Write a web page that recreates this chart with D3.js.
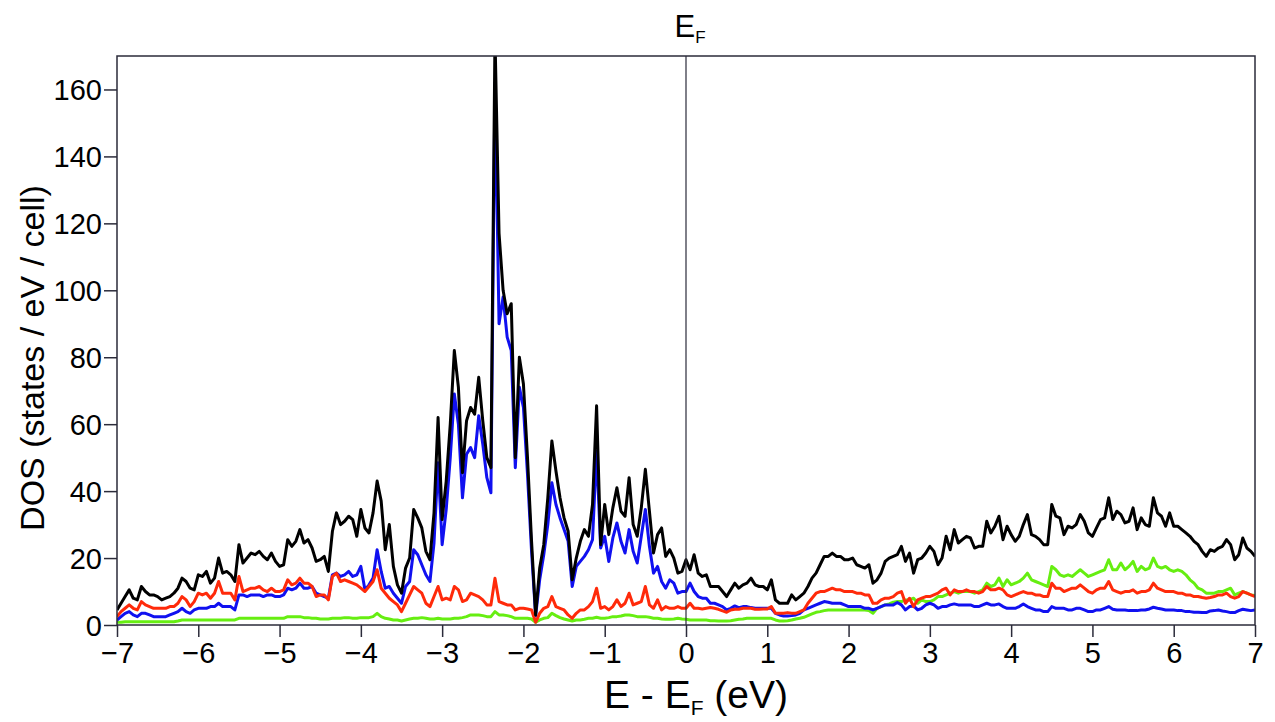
<!DOCTYPE html>
<html>
<head>
<meta charset="utf-8">
<script src="https://cdn.jsdelivr.net/npm/d3@7"></script>
<style>
  body { margin: 0; background: #fff; }
  text { font-family: "Liberation Sans", Arial, sans-serif; fill: #000; }
</style>
</head>
<body>
<div id="chart"></div>
<script>
var svgWidth = 1275;
var svgHeight = 722;

var margin = { top: 56, right: 20, bottom: 97, left: 117 };

var width = svgWidth - margin.left - margin.right;
var height = svgHeight - margin.top - margin.bottom;

// energy grid, -7 to 7 eV in 0.05 eV steps (281 points, one row = 1 eV)
var energy = d3.range(281).map(function(i) { return -7 + i * 0.05; });

var totalDOS = [
  4.5, 6.5, 8.5, 10.5, 8, 7.5, 11.5, 10, 9, 9, 8.5, 7.5, 8, 8.5, 9.5, 11, 14, 13, 11, 10.5,
  15, 14.5, 16, 12.5, 14, 20, 15.5, 16, 15, 13, 24, 18.5, 20, 21.5, 21, 22, 20.5, 19.5, 21.5, 19,
  17.5, 18, 25.5, 23.5, 25, 28.5, 24.5, 25.5, 23, 19, 19.5, 20.5, 16, 28, 33.5, 30, 31, 32.5, 31.5, 26.5,
  34.5, 29, 27.5, 33.5, 43, 37, 22.5, 30, 17.5, 12, 9.5, 17, 20, 34.5, 32, 29, 22, 19.5, 33.5, 62,
  31.5, 43, 60, 82, 71, 45.5, 61, 65, 63, 74, 61, 50, 47, 176, 117, 100, 93, 96, 50, 80,
  72, 50, 25, 3, 17, 24, 38, 55, 46, 38, 32, 28, 13.5, 20, 25, 28.5, 26.5, 36, 65.5, 24,
  36, 27, 35, 41, 34, 32.5, 44, 30, 26.5, 35, 46.5, 34, 21.5, 27, 29, 20.5, 22.5, 20, 15.5, 16,
  19.5, 16.5, 21, 15.5, 14.5, 15, 11.5, 11.5, 11.5, 10, 8.5, 10.5, 12.5, 11, 12, 12.5, 14, 12, 11.5, 11.5,
  10.5, 13.5, 7.5, 6.5, 6.5, 6.5, 9, 7.5, 8.5, 9.5, 11.5, 14, 15.5, 18, 20.5, 20.5, 21.5, 20.5, 20.5, 19.5,
  19.5, 20, 18, 17.5, 17, 18, 12.5, 13.5, 15.5, 19, 20, 20.5, 21, 23.5, 19, 21.5, 15.5, 19.5, 20, 21.5,
  23.5, 22, 18, 20, 26.5, 22.5, 28.5, 24.5, 25.5, 26.5, 26, 23, 23.5, 23.5, 31, 27.5, 29.5, 32.5, 25.5, 29.5,
  27, 25, 26.5, 30, 33, 27, 26.5, 25.5, 24, 24, 36, 32.5, 32, 27, 29.5, 29, 30, 33, 31, 27.5,
  26.5, 29, 31.5, 32, 38, 31.5, 34, 33, 30.5, 31, 35, 28.5, 32, 30, 29.5, 38, 33.5, 32.5, 29.5, 33.5,
  29.5, 29.5, 28.5, 27.5, 26.5, 25, 24, 22, 20.5, 22.5, 22, 23, 23.5, 25.5, 24, 19.5, 21, 26, 23, 22,
  20.5
];

var blueDOS = [
  1.5, 2.5, 3.5, 4, 3, 2.5, 3.5, 3.5, 3, 2.5, 2.5, 2.5, 2.5, 3, 3.5, 4, 5, 4, 3.5, 4.5,
  5, 5, 5, 5.5, 5.5, 6.5, 5.5, 5.5, 5.5, 4.5, 9, 9, 8.5, 9, 9, 9, 8.5, 9, 9, 8.5,
  8.5, 9, 11, 10.5, 11, 12.5, 11, 11, 11.5, 9.5, 9, 8.5, 8, 15, 15.5, 14.5, 15, 16, 14.5, 15,
  17.5, 10.5, 12, 14, 22.5, 16, 11, 11.5, 9.5, 8, 6.5, 11.5, 13, 22.5, 21, 18, 15, 13, 24.5, 48.5,
  24, 34.5, 50, 69, 60, 38, 51, 53, 50, 62.5, 54, 44, 39.5, 162, 90, 98, 86, 82, 47, 71,
  65, 45, 22, 2.7, 13.5, 21, 30, 42.5, 36, 32, 28.5, 25, 11.5, 17.5, 19, 20.5, 22.5, 25.5, 52, 23,
  26.5, 19, 26, 30.5, 25, 21.5, 28.5, 22, 18.5, 26.5, 34.5, 23.5, 15.5, 17.5, 13, 11, 13.5, 12.5, 9.5, 10,
  10, 12.5, 10, 8.5, 8, 8, 6.5, 6.5, 6, 5.5, 4.5, 5, 5.7, 5.2, 5.5, 5.5, 5.2, 5, 5, 5,
  5, 5, 3.5, 3, 2.7, 2.7, 2.8, 3, 3.5, 4.5, 5, 5.5, 6, 6.5, 7, 6.8, 6.5, 6.5, 6.5, 6,
  5.5, 5.5, 5.5, 5.5, 5, 5, 4.5, 5, 5.5, 6, 6, 6, 6.7, 6, 4.5, 5.5, 5.7, 4.5, 5, 6,
  6.5, 6, 5, 5.5, 5.5, 6, 6.3, 6, 6, 6, 6, 5.5, 5.5, 6, 6.5, 6, 6, 6.3, 5.5, 5,
  5, 5, 5.5, 6.3, 5.5, 5, 4.5, 4.5, 4, 4, 5.5, 5, 5, 5, 4.5, 4.5, 5, 5, 4.5, 4,
  4, 4.5, 4.5, 5, 5.5, 4.7, 4.5, 4.5, 4.5, 4.3, 4.3, 4.3, 4.5, 4.5, 4.8, 5.3, 5, 4.8, 4.5, 4.5,
  4.5, 4.3, 4.3, 4, 4, 3.8, 3.8, 3.7, 3.7, 4.2, 4.3, 4.5, 4.2, 4, 3.7, 3.7, 4.3, 4.7, 4.5, 4.3,
  4.5
];

var redDOS = [
  2.5, 4, 5, 6, 5, 4.5, 7, 6, 5.5, 5, 5, 5, 5, 5.5, 5.5, 6.5, 8.5, 7.5, 5.5, 7,
  9.5, 9, 9.5, 8, 9.5, 13, 9.5, 9.5, 9.5, 7.5, 14.5, 10, 10.5, 11, 11, 11.5, 10.5, 10, 11, 10,
  10, 10.5, 13.5, 12, 12.5, 14, 12.5, 12.5, 11.5, 8.5, 9, 9, 7.5, 14.5, 15.5, 13, 13.5, 13, 12.5, 12,
  11, 10, 11.5, 13, 16.5, 11, 9.5, 8, 7, 6, 4, 6.5, 9, 11.5, 10.5, 9.5, 6.5, 5.5, 8.5, 11.5,
  7.5, 8, 7.5, 11.5, 10.5, 7, 7.5, 9.5, 9, 8.5, 7.5, 6, 6, 14, 7, 6.5, 6, 6, 4.5, 5,
  5, 4.8, 4.5, 0.8, 3.5, 5, 5.5, 8.5, 5.5, 5, 4.5, 3, 2, 3.5, 4.5, 4.5, 5.5, 7, 11, 5,
  5.5, 4.5, 5.5, 7.5, 5.5, 6.5, 9.5, 6, 6.5, 7, 11.5, 6, 5, 7.5, 4.5, 5.5, 5, 5, 5.5, 5,
  5, 6.5, 5, 5, 4.8, 5, 5.2, 5, 4.7, 4.2, 3.8, 4.5, 4.7, 4.7, 5, 5, 5, 4.7, 4.7, 4.8,
  4.8, 5.5, 3.5, 3.5, 3.5, 3.7, 3.5, 3.5, 4, 4.5, 6.5, 8, 9.5, 10, 10, 10.5, 11, 10.5, 10.5, 10,
  10, 10, 9.5, 9.5, 9, 9, 6.5, 6.5, 7.5, 8, 8, 8.5, 9.5, 10, 6.5, 8, 5.5, 7.5, 8, 8.5,
  8.5, 9, 9.5, 10.5, 11, 9, 10.5, 10, 10, 10.5, 10, 10, 9.5, 10, 11.5, 10.5, 10.5, 11, 10.5, 9,
  8.5, 9, 9.5, 10, 9.5, 9.5, 9, 9, 8.5, 8.5, 12.5, 11, 11, 10, 10.5, 11, 11, 12, 11, 10,
  9.5, 10.5, 11, 11, 13, 10.5, 10, 9.5, 10, 10, 10.5, 9.5, 10, 10, 10.5, 12.5, 11, 10.5, 10, 10,
  10, 9.5, 9.5, 9, 9, 8.5, 8.5, 8.2, 8, 8.2, 8.5, 9, 9, 9.5, 8.5, 8, 8.5, 10, 9.5, 9,
  8.5
];

var greenDOS = [
  0.8, 0.8, 1, 1, 1, 1, 1, 1, 1, 1, 1, 1, 1, 1, 1, 1.2, 1.5, 1.5, 1.5, 1.5,
  1.5, 1.5, 1.5, 1.5, 1.5, 1.5, 1.5, 1.5, 1.5, 1.5, 2, 2, 2, 2, 2, 2, 2, 2, 2, 2,
  2, 2, 2.5, 2.5, 2.5, 2.5, 2.2, 2.2, 2, 2, 1.8, 1.8, 1.8, 2, 2, 2, 2.2, 2.2, 2, 2,
  2.2, 2.2, 2.2, 2.5, 3.5, 2.5, 2, 1.8, 1.5, 1.5, 1.2, 1.5, 1.8, 2, 2, 2.2, 2, 1.8, 1.8, 2,
  1.8, 1.8, 1.8, 2, 2, 2.2, 2.5, 3, 3, 3, 2.8, 2.5, 2.5, 4, 3, 3, 2.8, 2.5, 2, 2,
  2, 2, 1.8, 0.8, 1.5, 2, 2.2, 3.5, 2.8, 2.2, 1.8, 1.5, 1.2, 1.5, 1.5, 1.7, 2, 2, 2.3, 2,
  2, 2.2, 2.5, 2.5, 2.7, 3, 3, 2.8, 2.5, 2.5, 2.5, 2.3, 2, 2, 1.8, 1.7, 1.7, 1.8, 2, 1.8,
  1.7, 1.5, 1.5, 1.5, 1.5, 1.5, 1.3, 1.3, 1.2, 1.2, 1.2, 1.3, 1.5, 1.7, 1.8, 2, 2, 2, 2, 2,
  2, 2, 1.5, 1.2, 1.2, 1.3, 1.5, 1.8, 2, 2.3, 2.8, 3.3, 3.8, 4, 4.3, 4.5, 4.5, 4.5, 4.5, 4.5,
  4.5, 4.5, 4.5, 4.5, 4.5, 4.3, 3.5, 5, 5.5, 6, 6.3, 6.8, 7, 7, 7.5, 7.5, 8, 6.5, 7.5, 7,
  7, 7.5, 8.5, 8.5, 9, 9.5, 10, 9.5, 10, 10, 10, 9.5, 10, 10.5, 12.5, 11.5, 12, 14, 11.5, 13.5,
  12, 12.5, 13, 14, 15.5, 13.5, 13, 12.5, 12, 11.5, 17.5, 16.5, 15, 14.5, 15, 14.5, 15.5, 16.5, 15.5, 14.5,
  15, 15.5, 16, 16.5, 19.5, 16.5, 16.5, 18.5, 16.5, 17.5, 19, 16, 17.5, 16.5, 17, 20, 17.5, 17, 17.5, 16.5,
  16, 16.5, 16, 15, 13.5, 12.5, 11, 10.5, 9.5, 9.5, 9.5, 10, 10, 10.5, 11, 9, 9.5, 10, 9.5, 9,
  8.8
];

var xTicks = [-7, -6, -5, -4, -3, -2, -1, 0, 1, 2, 3, 4, 5, 6, 7];
var yTicks = [0, 20, 40, 60, 80, 100, 120, 140, 160];

var svg = d3.select("#chart")
    .append("svg")
    .attr("width", svgWidth)
    .attr("height", svgHeight);

var chartGroup = svg.append("g")
    .attr("transform", `translate(${margin.left}, ${margin.top})`);

var xScale = d3.scaleLinear().domain([-7, 7]).range([0, width]);
var yScale = d3.scaleLinear().domain([0, 170]).range([height, 0]);

chartGroup.append("clipPath")
    .attr("id", "plotClip")
    .append("rect")
    .attr("width", width)
    .attr("height", height);

// axes
var bottomAxis = d3.axisBottom(xScale).tickValues(xTicks).tickSize(12).tickPadding(5);
var leftAxis = d3.axisLeft(yScale).tickValues(yTicks).tickSize(13).tickPadding(2);

var xAxisG = chartGroup.append("g")
    .attr("transform", `translate(0, ${height})`)
    .call(bottomAxis);
var yAxisG = chartGroup.append("g").call(leftAxis);

[xAxisG, yAxisG].forEach(function(g) {
  g.select(".domain").remove();
  g.selectAll(".tick line").attr("stroke", "#2b2b3a").attr("stroke-width", 1.5);
  g.selectAll(".tick text")
    .attr("font-size", "29px")
    .attr("font-family", "'Liberation Sans', Arial, sans-serif")
    .attr("fill", "#000");
});
yAxisG.selectAll(".tick text").attr("dy", "0.36em");

// DOS curves
var line = d3.line()
    .x(function(d, i) { return xScale(energy[i]); })
    .y(function(d) { return yScale(d); });

var series = [
  { values: greenDOS, color: "#66ee11" },
  { values: blueDOS, color: "#1010f0" },
  { values: redDOS, color: "#ff2a0a" },
  { values: totalDOS, color: "#000000" }
];

chartGroup.append("g")
    .attr("clip-path", "url(#plotClip)")
    .selectAll("path")
    .data(series)
    .enter()
    .append("path")
    .attr("d", function(s) { return line(s.values); })
    .attr("fill", "none")
    .attr("stroke", function(s) { return s.color; })
    .attr("stroke-width", 3)
    .attr("stroke-linejoin", "round");

// Fermi level line
chartGroup.append("line")
    .attr("x1", xScale(0)).attr("x2", xScale(0))
    .attr("y1", 0).attr("y2", height)
    .attr("stroke", "#2b2b3a")
    .attr("stroke-width", 1.2);

// frame
chartGroup.append("rect")
    .attr("width", width)
    .attr("height", height)
    .attr("fill", "none")
    .attr("stroke", "#2b2b3a")
    .attr("stroke-width", 1.5);

// labels
var efLabel = svg.append("text")
    .attr("x", margin.left + xScale(0) + 4)
    .attr("y", 37)
    .attr("text-anchor", "middle")
    .attr("font-size", "31px");
efLabel.append("tspan").text("E");
efLabel.append("tspan").attr("font-size", "17px").attr("dy", "6").text("F");

var xTitle = svg.append("text")
    .attr("x", margin.left + xScale(0) + 10)
    .attr("y", 708)
    .attr("text-anchor", "middle")
    .attr("font-size", "39px");
xTitle.append("tspan").text("E - E");
xTitle.append("tspan").attr("font-size", "21px").attr("dy", "7").text("F");
xTitle.append("tspan").attr("dy", "-7").text(" (eV)");

svg.append("text")
    .attr("transform", `translate(44, 358) rotate(-90)`)
    .attr("text-anchor", "middle")
    .attr("font-size", "34px")
    .text("DOS (states / eV / cell)");
</script>
</body>
</html>
